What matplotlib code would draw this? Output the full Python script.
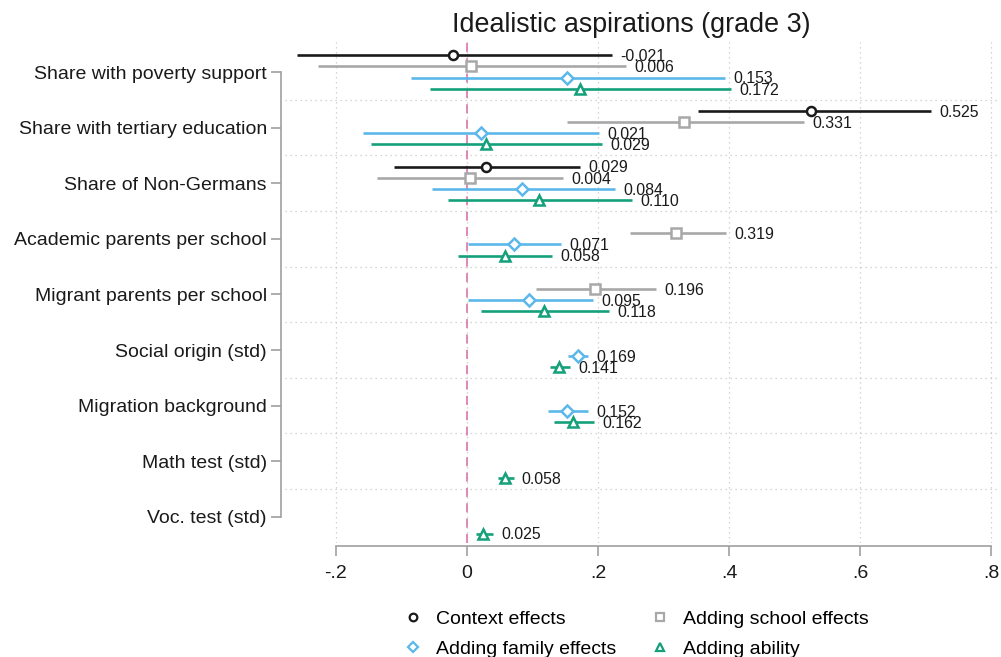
import matplotlib.pyplot as plt
import numpy as np

plt.rcParams['font.family'] = ['Liberation Sans', 'DejaVu Sans']

variables = ['Share with poverty support', 'Share with tertiary education',
             'Share of Non-Germans', 'Academic parents per school',
             'Migrant parents per school', 'Social origin (std)',
             'Migration background', 'Math test (std)', 'Voc. test (std)']

nan = np.nan
# coefficients and 95% CIs per model
ctx_b = [-0.021, 0.525, 0.029, nan, nan, nan, nan, nan, nan]
ctx_lo = [-0.260, 0.353, -0.111, nan, nan, nan, nan, nan, nan]
ctx_hi = [0.221, 0.708, 0.172, nan, nan, nan, nan, nan, nan]

sch_b = [0.006, 0.331, 0.004, 0.319, 0.196, nan, nan, nan, nan]
sch_lo = [-0.227, 0.152, -0.137, 0.249, 0.106, nan, nan, nan, nan]
sch_hi = [0.243, 0.514, 0.147, 0.395, 0.289, nan, nan, nan, nan]

fam_b = [0.153, 0.021, 0.084, 0.071, 0.095, 0.169, 0.152, nan, nan]
fam_lo = [-0.085, -0.158, -0.054, 0.001, 0.001, 0.154, 0.123, nan, nan]
fam_hi = [0.393, 0.202, 0.226, 0.143, 0.192, 0.184, 0.185, nan, nan]

abl_b = [0.172, 0.029, 0.110, 0.058, 0.118, 0.141, 0.162, 0.058, 0.025]
abl_lo = [-0.056, -0.147, -0.029, -0.013, 0.022, 0.126, 0.132, 0.047, 0.014]
abl_hi = [0.403, 0.206, 0.252, 0.130, 0.216, 0.157, 0.194, 0.071, 0.039]

models = [
    ('Context effects', ctx_b, ctx_lo, ctx_hi, '#1a1a1a', 'o'),
    ('Adding school effects', sch_b, sch_lo, sch_hi, '#a8a8a8', 's'),
    ('Adding family effects', fam_b, fam_lo, fam_hi, '#5cb8ea', 'D'),
    ('Adding ability', abl_b, abl_lo, abl_hi, '#13a07a', '^'),
]
offsets = [-0.3, -0.1, 0.1, 0.3]
msizes = {'o': 6.5, 's': 6.5, 'D': 6, '^': 7}

fig = plt.figure(figsize=(10.01, 6.57), dpi=100)
ax = fig.add_axes([285 / 1001, 1 - 543 / 657, 715 / 1001, 501 / 657])

# spines first: set_position resets the tick labels
for s in ['top', 'right']:
    ax.spines[s].set_visible(False)
for s in ['left', 'bottom']:
    ax.spines[s].set_color('#a0a0a0')
    ax.spines[s].set_linewidth(1.2)
ax.spines['left'].set_position(('outward', 3))
ax.spines['bottom'].set_position(('outward', 2))

pos = np.arange(len(variables))
handles = {}
for (name, b, lo, hi, col, mk), off in zip(models, offsets):
    b, lo, hi = np.array(b), np.array(lo), np.array(hi)
    ok = ~np.isnan(b)
    y = pos[ok] + off
    ax.hlines(y, lo[ok], hi[ok], color=col, lw=1.9, zorder=3)
    ax.plot(b[ok], y, ls='none', marker=mk, ms=msizes[mk], mec=col,
            mfc='white', mew=1.8, zorder=4)
    for yy, v, h in zip(y, b[ok], hi[ok]):
        ax.annotate(f'{v:.3f}', (h, yy), xytext=(6, -1),
                    textcoords='offset points', va='center', ha='left',
                    fontsize=11.4, color='#1a1a1a')
    handles[name] = plt.Line2D([], [], ls='none', marker=mk,
                               ms=msizes[mk] - 1, mec=col, mfc='white',
                               mew=1.6, label=name)

ax.axvline(0, color='#dc80b2', lw=1.3, ls=(0, (5, 3.5)), zorder=2)

ax.set_xlim((285 - 467) / 655.5, (1000 - 467) / 655.5)
ax.set_ylim(8.47, -0.54)

# grid: between categories and at the x ticks
for yy in pos[:-1] + 0.5:
    ax.axhline(yy, color='#c8c8c8', lw=0.9, ls=(0, (1, 3)), zorder=1)
xt = [-0.2, 0, 0.2, 0.4, 0.6, 0.8]
for xx in xt:
    ax.axvline(xx, color='#c8c8c8', lw=0.9, ls=(0, (1, 3)), zorder=1)

ax.set_xticks(xt)
ax.set_xticklabels(['-.2', '0', '.2', '.4', '.6', '.8'])
ax.set_yticks(pos)
ax.set_yticklabels(variables)
ax.tick_params(axis='both', color='#a0a0a0', length=7, width=1.2,
               labelsize=14, labelcolor='#1a1a1a')
ax.tick_params(axis='x', pad=7)
ax.tick_params(axis='y', pad=3)
ax.spines['left'].set_bounds(0, 8)
ax.spines['bottom'].set_bounds(-0.2, 0.8)

fig.text(631 / 1001, 1 - 25 / 657, 'Idealistic aspirations (grade 3)',
         ha='center', va='center', fontsize=19.4, color='#1a1a1a')

order = ['Context effects', 'Adding family effects',
         'Adding school effects', 'Adding ability']
fig.legend(handles=[handles[k] for k in order], ncol=2, loc='upper left',
           bbox_to_anchor=(401 / 1001, 1 - 610 / 657), frameon=False,
           fontsize=14, handletextpad=0.6, columnspacing=1.65,
           labelspacing=0.65, handlelength=1.2, borderpad=0,
           borderaxespad=0)

fig.savefig('out.png', dpi=100)
